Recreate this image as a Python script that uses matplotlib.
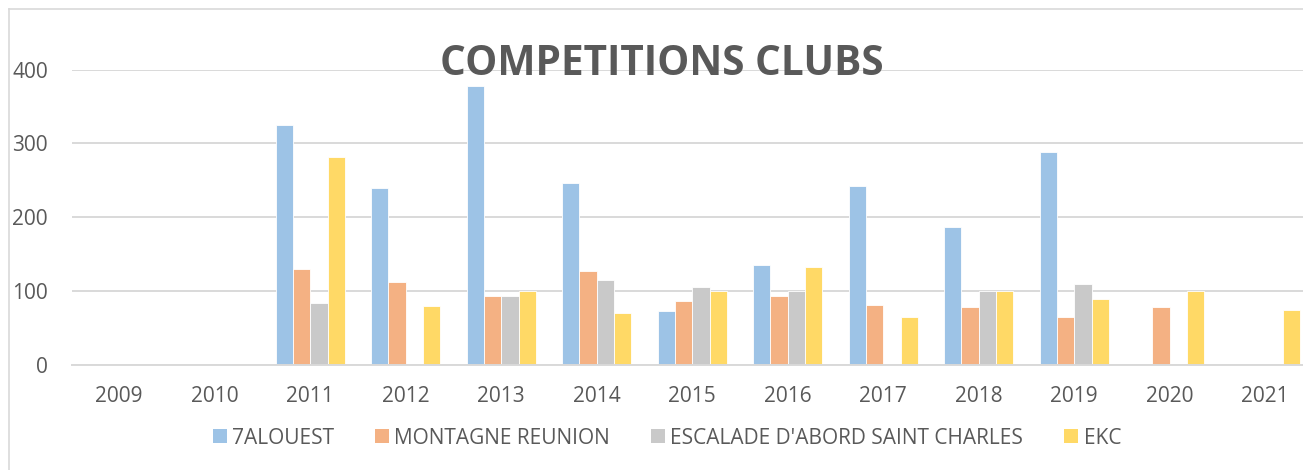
import numpy as np
import matplotlib
matplotlib.use('Agg')
import matplotlib.pyplot as plt
from matplotlib.patches import Patch
from matplotlib.lines import Line2D

# ── Data ──────────────────────────────────────────────────────────────────────
years = ['2009', '2010', '2011', '2012', '2013', '2014', '2015',
         '2016', '2017', '2018', '2019', '2020', '2021']
alouest   = [0, 0, 325, 240, 377, 247, 73, 135, 242, 187, 288, 0, 0]
montagne  = [0, 0, 130, 112, 93, 127, 87, 94, 81, 79, 65, 78, 0]
escalade  = [0, 0, 84, 0, 93, 115, 105, 100, 0, 100, 110, 0, 0]
ekc       = [0, 0, 282, 80, 100, 71, 100, 133, 65, 100, 89, 100, 74]

series_names  = ['7ALOUEST', 'MONTAGNE REUNION', "ESCALADE D'ABORD SAINT CHARLES", 'EKC']
series_values = [alouest, montagne, escalade, ekc]
colors        = ['#9DC3E6', '#F4B183', '#C9C9C9', '#FFD966']

TXT  = '#595959'
GRID = '#D9D9D9'
W, H = 1303, 470

plt.rcParams['font.family'] = ['Open Sans', 'DejaVu Sans']

fig = plt.figure(figsize=(W / 100, H / 100), dpi=100)

# plot area in pixels (right side runs past the crop, like the screenshot)
px_left, px_right = 71.5, 1313.0
px_top, px_bottom = 69.5, 365.0
ax = fig.add_axes([px_left / W, (H - px_bottom) / H,
                   (px_right - px_left) / W, (px_bottom - px_top) / H])

x = np.arange(len(years))
n = len(series_values)
bw = 1.0 / (n + 1.5)
for i, (vals, col, name) in enumerate(zip(series_values, colors, series_names)):
    off = (i - (n - 1) / 2) * bw
    ax.bar(x + off, vals, width=bw, color=col, edgecolor='white',
           linewidth=0.6, label=name, zorder=2)

ax.set_xlim(-0.5, len(years) - 0.5)
ax.set_ylim(0, 400)
ax.set_yticks([0, 100, 200, 300, 400])
ax.set_xticks(x)
ax.set_xticklabels(years)
ax.yaxis.grid(True, color=GRID, linewidth=1.4)
ax.set_axisbelow(True)
for s in ('top', 'right', 'left'):
    ax.spines[s].set_visible(False)
ax.spines['bottom'].set_color(GRID)
ax.spines['bottom'].set_linewidth(1.4)
ax.spines['bottom'].set_zorder(3)
ax.tick_params(axis='both', length=0, labelsize=15, labelcolor=TXT)
ax.tick_params(axis='y', pad=17)
ax.tick_params(axis='x', pad=15)

# title overlapping the top gridline
fig.text(661.5 / W, 1 - 75 / H, 'COMPETITIONS CLUBS', ha='center',
         va='baseline', fontsize=29.2, fontweight='bold', color=TXT)

# legend
handles = [Patch(facecolor=c, edgecolor='none') for c in colors]
fig.legend(handles, series_names, loc='center', ncol=4, frameon=False,
           bbox_to_anchor=(667 / W, 1 - 438 / H), fontsize=15,
           labelcolor=TXT, handlelength=0.67, handleheight=0.67,
           handletextpad=0.25, columnspacing=1.97)

# chart frame (light border on top and left)
fig.add_artist(Line2D([9 / W, 9 / W], [0, 1 - 9 / H], color=GRID, lw=1.2))
fig.add_artist(Line2D([9 / W, 1], [1 - 9 / H, 1 - 9 / H], color=GRID, lw=1.2))

fig.savefig('out.png', dpi=100, facecolor='white')
